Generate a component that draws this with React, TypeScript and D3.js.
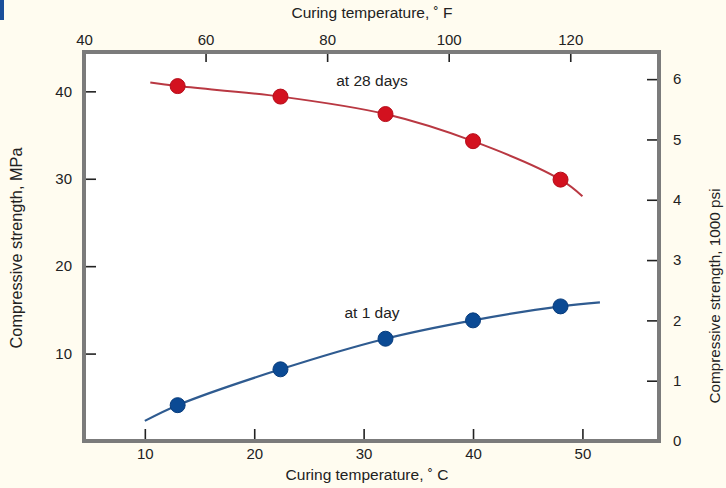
import React, { useEffect, useRef } from "react";
import * as d3 from "d3";

// measured points, curing temperature in degrees C
const tempC = [13, 22.4, 32, 40, 48];
const strength28d = [40.6, 39.4, 37.4, 34.3, 29.9];
const strength1d = [4.1, 8.2, 11.7, 13.8, 15.4];

// fitted curves, [degC, MPa]
const curve28d: [number, number][] = [
  [10.5, 41.0], [13, 40.6], [22.4, 39.4], [32, 37.4], [40, 34.3], [48, 29.9], [50, 28.0]
];
const curve1d: [number, number][] = [
  [10, 2.3], [13, 4.1], [22.4, 8.2], [32, 11.7], [40, 13.8], [48, 15.4], [51.6, 15.85]
];

const ticksC = [10, 20, 30, 40, 50];
const ticksF = [40, 60, 80, 100, 120];
const ticksMPa = [10, 20, 30, 40];
const ticksPsi = [0, 1, 2, 3, 4, 5, 6];

const FONT = "'Liberation Sans', Arial, sans-serif";

export default function App() {
  const ref = useRef<SVGSVGElement>(null);

  useEffect(() => {
    const width = 726,
      height = 488,
      left = 84,
      right = 659,
      top = 52,
      bottom = 441;

    const svg = d3.select(ref.current);
    svg.selectAll("*").remove();

    const x = d3.scaleLinear().domain([4.44, 57]).range([left, right]);
    const xF = d3.scaleLinear().domain([40, 134.6]).range([left, right]);
    const y = d3.scaleLinear().domain([0, 44.5]).range([bottom, top]);
    const yPsi = d3.scaleLinear().domain([0, 6.45]).range([bottom, top]);

    svg.append("rect").attr("width", width).attr("height", height).attr("fill", "#fffcf0");
    svg.append("rect").attr("x", 0).attr("y", 0).attr("width", 4).attr("height", 20).attr("fill", "#1b4f9a");

    svg.append("rect")
      .attr("x", left).attr("y", top)
      .attr("width", right - left).attr("height", bottom - top)
      .attr("fill", "#ffffff");

    const styleAxis = (g) => {
      g.select(".domain").remove();
      g.selectAll(".tick line").attr("stroke", "#222").attr("stroke-width", 1.6);
      g.selectAll(".tick text")
        .attr("fill", "#222")
        .style("font-family", FONT)
        .style("font-size", "15px");
    };

    const fmt = d3.format("d");

    svg.append("g")
      .attr("transform", `translate(${left},0)`)
      .call(d3.axisLeft(y).tickValues(ticksMPa).tickFormat(fmt).tickSizeInner(-12).tickSizeOuter(0).tickPadding(12))
      .call(styleAxis);

    svg.append("g")
      .attr("transform", `translate(${right},0)`)
      .call(d3.axisRight(yPsi).tickValues(ticksPsi).tickFormat(fmt).tickSizeInner(-12).tickSizeOuter(0).tickPadding(14))
      .call(styleAxis);

    svg.append("g")
      .attr("transform", `translate(0,${bottom})`)
      .call(d3.axisBottom(x).tickValues(ticksC).tickFormat(fmt).tickSizeInner(-12).tickSizeOuter(0).tickPadding(7))
      .call(styleAxis);

    svg.append("g")
      .attr("transform", `translate(0,${top})`)
      .call(d3.axisTop(xF).tickValues(ticksF).tickFormat(fmt).tickSizeInner(-10).tickSizeOuter(0).tickPadding(7))
      .call(styleAxis);

    // frame
    svg.append("rect")
      .attr("x", left).attr("y", top)
      .attr("width", right - left).attr("height", bottom - top)
      .attr("fill", "none")
      .attr("stroke", "#7b7b7b")
      .attr("stroke-width", 4);

    const line = d3.line<[number, number]>()
      .x((d) => x(d[0]))
      .y((d) => y(d[1]))
      .curve(d3.curveCatmullRom);

    svg.append("path").attr("d", line(curve28d)).attr("fill", "none").attr("stroke", "#b93842").attr("stroke-width", 2);
    svg.append("path").attr("d", line(curve1d)).attr("fill", "none").attr("stroke", "#2f5b90").attr("stroke-width", 2.2);

    svg.selectAll(".p28")
      .data(tempC)
      .enter()
      .append("circle")
      .attr("class", "p28")
      .attr("cx", (d) => x(d))
      .attr("cy", (d, i) => y(strength28d[i]))
      .attr("r", 7.5)
      .attr("fill", "#d3111f")
      .attr("stroke", "#b50d1a")
      .attr("stroke-width", 1);

    svg.selectAll(".p1")
      .data(tempC)
      .enter()
      .append("circle")
      .attr("class", "p1")
      .attr("cx", (d) => x(d))
      .attr("cy", (d, i) => y(strength1d[i]))
      .attr("r", 7.5)
      .attr("fill", "#0b4a94")
      .attr("stroke", "#083c7c")
      .attr("stroke-width", 1);

    const label = (tx, ty, text, rotate = 0, size = 15.5) =>
      svg.append("text")
        .attr("transform", `translate(${tx},${ty}) rotate(${rotate})`)
        .attr("text-anchor", "middle")
        .attr("dominant-baseline", "middle")
        .attr("fill", "#222")
        .style("font-family", FONT)
        .style("font-size", size + "px")
        .text(text);

    label(372, 82, "at 28 days");
    label(372, 314, "at 1 day");
    label(372, 14, "Curing temperature, ˚ F");
    label(367, 476, "Curing temperature, ˚ C");
    label(18, 248, "Compressive strength, MPa", -90, 16.3);
    label(716, 296, "Compressive strength, 1000 psi", -90, 15.3);
  }, []);

  return (
    <div style={{ position: "absolute", left: 0, top: 0 }}>
      <svg ref={ref} width={726} height={488} style={{ display: "block" }} />
    </div>
  );
}
